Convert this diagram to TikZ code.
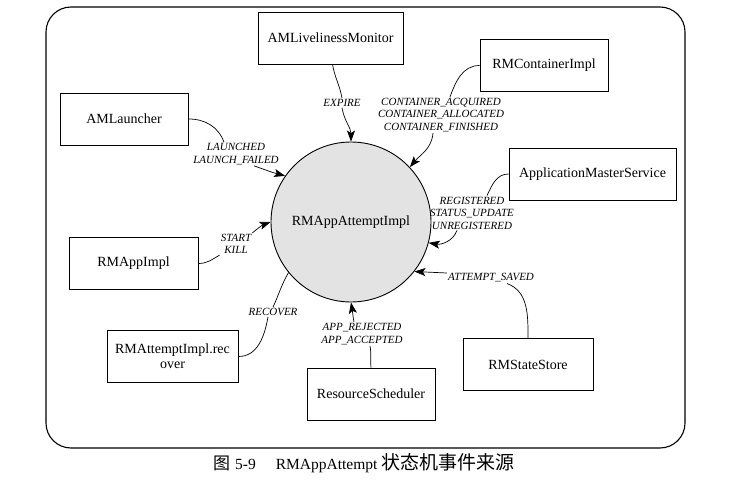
\documentclass[tikz,border=0pt]{standalone}
\usepackage{fontspec}
\setmainfont{Liberation Serif}
\newfontfamily\cjk{Noto Sans CJK SC}
\usetikzlibrary{arrows.meta}
\tikzset{
	x=1pt, y=-1pt, % one unit per pixel, y grows downwards
	source/.style={draw, line width=0.9pt, inner sep=0pt, minimum height=52pt, align=center, font=\fontsize{14}{15}\selectfont}, % the boxes that send events
	event/.style={inner sep=1pt, align=center, font=\fontsize{11}{12.5}\selectfont\itshape}, % the event names on the edges
	link/.style={line width=0.7pt}, % plain edge piece
	fire/.style={link, -{Stealth[length=11pt, width=8pt, inset=2.5pt]}}, % edge piece that ends on the state machine
}

\begin{document}
\begin{tikzpicture}
		\useasboundingbox (0,0) rectangle (734,484);
		\draw[line width=1.1pt, rounded corners=25pt] (46,7) rectangle (685,448);
		
		% state machine
		\node[draw, circle, line width=0.9pt, fill=gray!22, minimum size=160pt, font=\fontsize{14}{15}\selectfont] (attempt) at (351,222) {RMAppAttemptImpl};
		
		% event sources
		\node[source, minimum width=145pt] (monitor) at (330.5,38) {AMLivelinessMonitor};
		\node[source, minimum width=128pt] (container) at (544,65.5) {RMContainerImpl};
		\node[source, minimum width=128pt] (launcher) at (124,119) {AMLauncher};
		\node[source, minimum width=167pt] (ams) at (592.5,174) {ApplicationMasterService};
		\node[source, minimum width=129pt] (app) at (133.5,263.5) {RMAppImpl};
		\node[source, minimum width=131pt] (recover) at (172.5,356.5) {RMAttemptImpl.rec\\over};
		\node[source, minimum width=128pt] (scheduler) at (371,394) {ResourceScheduler};
		\node[source, minimum width=130pt] (statestore) at (528,364.5) {RMStateStore};
		
		% events
		\node[event] (expireev) at (342,103) {EXPIRE};
		\node[event] (containerev) at (441,115) {CONTAINER\_ACQUIRED\\CONTAINER\_ALLOCATED\\CONTAINER\_FINISHED};
		\node[event] (launchev) at (236,154) {LAUNCHED\\LAUNCH\_FAILED};
		\node[event] (amsev) at (472,213) {REGISTERED\\STATUS\_UPDATE\\UNREGISTERED};
		\node[event] (killev) at (236,244) {START\\KILL};
		\node[event] (recoverev) at (273,312) {RECOVER};
		\node[event] (schedulerev) at (362,334) {APP\_REJECTED\\APP\_ACCEPTED};
		\node[event] (savedev) at (491,278) {ATTEMPT\_SAVED};
		
		% edges
		\draw[link] ([xshift=2pt]monitor.south) to[out=-80, in=100] (expireev.north);
		\draw[fire] (expireev.south) to[out=-80, in=90] (attempt.north);
		\draw[link] (container.west) to[out=180, in=70] ([xshift=9pt]containerev.north);
		\draw[fire] ([xshift=-8pt]containerev.south) to[out=-95, in=50] (attempt.43);
		\draw[link] (launcher.east) to[out=0, in=110] ([xshift=-12pt]launchev.north);
		\draw[fire] ([xshift=18pt]launchev.south) to[out=-20, in=165] (attempt.145);
		\draw[link] (ams.west) to[out=180, in=65] ([xshift=15pt]amsev.north);
		\draw[fire] ([xshift=-15pt]amsev.south) to[out=-110, in=-10] (attempt.-15);
		\draw[link] (app.east) to[out=0, in=-150] (killev.south west);
		\draw[fire] (killev.north east) to[out=40, in=200] (attempt.west);
		\draw[link] (recover.east) to[out=0, in=-100] ([xshift=-5pt]recoverev.south);
		\draw[link] (recoverev.north) to[out=65, in=240] (attempt.219);
		\draw[link] (scheduler.north) to[out=95, in=-80] ([xshift=8pt]schedulerev.south);
		\draw[fire] ([xshift=-8pt]schedulerev.north) to[out=100, in=-80] (attempt.south);
		\draw[link] (statestore.north) to[out=90, in=-20] ([xshift=16pt]savedev.south);
		\draw[fire] ([yshift=5pt]savedev.west) -- (attempt.-38);
		
		% caption
		\node[anchor=west, inner sep=0pt, font=\fontsize{15.5}{18}\selectfont] (caption) at (213,463) {{\cjk\fontsize{17}{18}\selectfont 图}\hspace{5pt}5-9\hspace{20pt}RMAppAttempt\hspace{4pt}{\cjk\fontsize{19}{20}\selectfont 状态机事件来源}};
\end{tikzpicture}
\end{document}
